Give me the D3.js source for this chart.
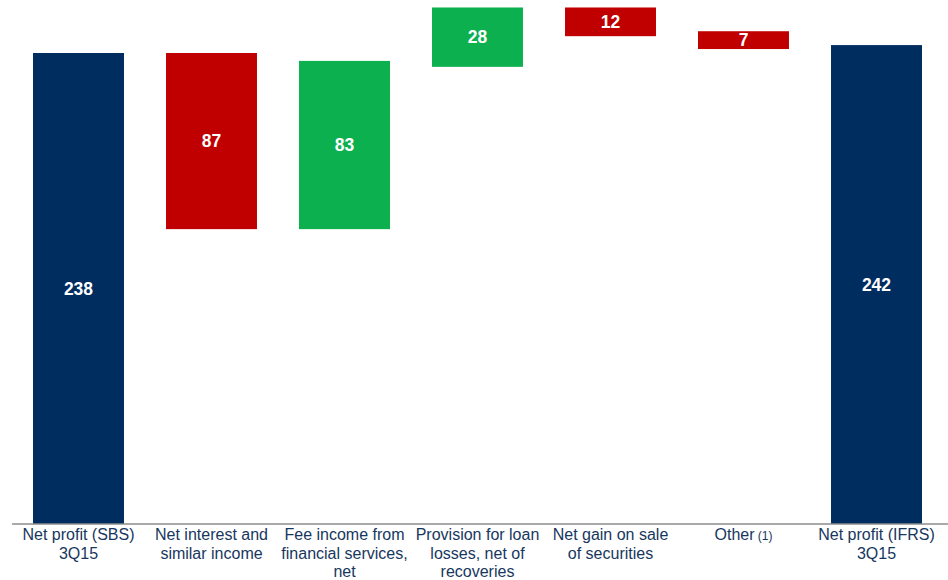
<!DOCTYPE html>
<html>
<head>
<meta charset="utf-8">
<script src="https://cdn.jsdelivr.net/npm/d3@7"></script>
<style>
  body { margin: 0; background: #fff; }
  svg { display: block; font-family: "Liberation Sans", Arial, sans-serif; }
</style>
</head>
<body>
<div id="chart"></div>
<script>
// categories (label lines)
const categories = [
    ["Net profit (SBS)", "3Q15"],
    ["Net interest and", "similar income"],
    ["Fee income from", "financial services,", "net"],
    ["Provision for loan", "losses, net of", "recoveries"],
    ["Net gain on sale", "of securities"],
    ["Other"],
    ["Net profit (IFRS)", "3Q15"]
];
// value shown on each bar
const values = [238, 87, 83, 28, 12, 7, 242];
// bar bottoms / tops
const lows = [0, 149, 149, 231, 246.5, 240, 0];
const highs = [238, 238, 234, 261, 261, 249, 242];
// total / decrease / increase
const kinds = ["total", "down", "up", "up", "down", "down", "total"];

const width = 948, height = 580;
const baseY = 524;

const colors = { total: "#002d5f", down: "#c00000", up: "#0cb04f" };

const svg = d3.select("#chart").append("svg")
    .attr("width", width)
    .attr("height", height);

const x = d3.scaleBand()
    .domain(d3.range(categories.length))
    .range([12, 943])
    .paddingInner(0.316)
    .paddingOuter(0.158);

const y = d3.scaleLinear()
    .domain([0, 265])
    .range([baseY, baseY - 265 * 1.979]);

// bars
svg.append("g")
    .selectAll("rect")
    .data(values)
    .enter().append("rect")
    .attr("x", (d, i) => x(i))
    .attr("width", x.bandwidth())
    .attr("y", (d, i) => y(highs[i]))
    .attr("height", (d, i) => y(lows[i]) - y(highs[i]))
    .attr("fill", (d, i) => colors[kinds[i]]);

// value labels
svg.append("g")
    .selectAll("text")
    .data(values)
    .enter().append("text")
    .attr("x", (d, i) => x(i) + x.bandwidth() / 2)
    .attr("y", (d, i) => (y(highs[i]) + y(lows[i])) / 2)
    .attr("dy", "0.36em")
    .attr("text-anchor", "middle")
    .attr("fill", "#fff")
    .style("font-weight", "bold")
    .style("font-size", "17.5px")
    .text(d => d);

// baseline
svg.append("line")
    .attr("x1", 12)
    .attr("x2", width)
    .attr("y1", baseY)
    .attr("y2", baseY)
    .attr("stroke", "#8c8c8c")
    .attr("stroke-width", 1.5);

// category labels
const lab = svg.append("g")
    .selectAll("text")
    .data(categories)
    .enter().append("text")
    .attr("x", (d, i) => x(i) + x.bandwidth() / 2)
    .attr("y", 540)
    .attr("text-anchor", "middle")
    .attr("fill", "#17375e")
    .style("font-size", "16px");

lab.each(function (lines, i) {
    const t = d3.select(this);
    lines.forEach((ln, j) => {
        t.append("tspan")
            .attr("x", x(i) + x.bandwidth() / 2)
            .attr("dy", j === 0 ? 0 : 18.5)
            .text(ln);
        if (ln === "Other") {
            t.append("tspan")
                .style("font-size", "12px")
                .text(" (1)");
        }
    });
});
</script>
</body>
</html>
